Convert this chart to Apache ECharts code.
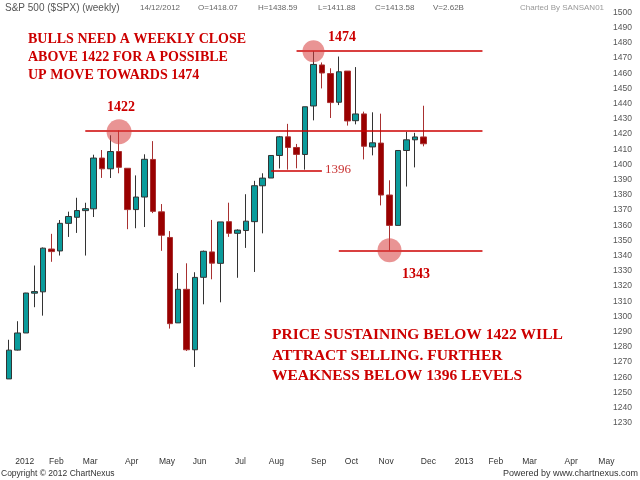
<!DOCTYPE html>
<html>
<head>
<meta charset="utf-8">
<script src="https://cdn.jsdelivr.net/npm/echarts@6/dist/echarts.min.js"></script>
<style>
  html, body { margin: 0; padding: 0; background: #fff; }
  #chart { width: 640px; height: 480px; }
</style>
</head>
<body>
<div id="chart"></div>
<script>
// weekly bars, week ending Friday (future weeks stay empty)
const weeks = [
  '2012-01-06','2012-01-13','2012-01-20','2012-01-27','2012-02-03','2012-02-10','2012-02-17','2012-02-24',
  '2012-03-02','2012-03-09','2012-03-16','2012-03-23','2012-03-30','2012-04-06','2012-04-13','2012-04-20',
  '2012-04-27','2012-05-04','2012-05-11','2012-05-18','2012-05-25','2012-06-01','2012-06-08','2012-06-15',
  '2012-06-22','2012-06-29','2012-07-06','2012-07-13','2012-07-20','2012-07-27','2012-08-03','2012-08-10',
  '2012-08-17','2012-08-24','2012-08-31','2012-09-07','2012-09-14','2012-09-21','2012-09-28','2012-10-05',
  '2012-10-12','2012-10-19','2012-10-26','2012-11-02','2012-11-09','2012-11-16','2012-11-23','2012-11-30',
  '2012-12-07','2012-12-14','2012-12-21','2012-12-28','2013-01-04','2013-01-11','2013-01-18','2013-01-25',
  '2013-02-01','2013-02-08','2013-02-15','2013-02-22','2013-03-01','2013-03-08','2013-03-15','2013-03-22',
  '2013-03-29','2013-04-05','2013-04-12','2013-04-19','2013-04-26','2013-05-03','2013-05-10'
];

const opens = [1258.86,1277.83,1289.09,1315.29,1316.16,1344.32,1343.06,1361.22,1365.20,1369.59,
  1370.78,1404.17,1397.11,1408.47,1397.45,1370.27,1378.53,1403.26,1368.79,1351.93,
  1295.73,1317.82,1278.04,1325.72,1342.42,1334.90,1362.33,1354.66,1356.50,1362.34,
  1385.94,1391.04,1405.87,1418.13,1411.13,1406.54,1438.44,1465.42,1459.76,1440.90,
  1461.40,1428.75,1433.21,1411.50,1414.02,1379.86,1359.88,1409.15,1416.18,1418.07];
const closes = [1277.81,1289.09,1315.38,1316.33,1344.90,1342.64,1361.23,1365.74,1369.63,1370.87,
  1404.17,1397.11,1408.47,1398.08,1370.26,1378.53,1403.36,1369.10,1353.39,1295.22,
  1317.82,1278.04,1325.66,1342.84,1335.02,1362.16,1354.68,1356.78,1362.66,1385.97,
  1390.99,1405.87,1418.16,1411.13,1406.58,1437.92,1465.77,1460.15,1440.67,1460.93,
  1428.59,1433.19,1411.94,1414.20,1379.85,1359.88,1409.15,1416.18,1418.07,1413.58];
const lows = [1258.86,1277.55,1289.09,1306.06,1300.49,1335.92,1340.03,1352.28,1354.92,1340.03,
  1365.38,1391.11,1391.06,1394.16,1357.38,1358.00,1358.79,1367.96,1343.13,1291.98,
  1295.73,1277.25,1266.74,1307.96,1324.41,1309.27,1352.32,1325.41,1345.07,1329.24,
  1354.65,1391.04,1397.32,1396.56,1397.43,1396.56,1428.98,1449.98,1430.53,1439.01,
  1425.53,1426.36,1403.28,1405.95,1373.03,1343.35,1359.88,1385.43,1398.04,1411.88];
const highs = [1284.62,1296.82,1315.49,1333.47,1345.34,1354.32,1363.40,1368.92,1378.04,1374.76,
  1406.37,1409.46,1419.15,1422.38,1397.45,1392.76,1406.64,1415.32,1373.91,1356.12,
  1328.49,1334.93,1329.05,1343.32,1363.46,1362.17,1374.81,1357.26,1380.39,1389.19,
  1394.16,1405.98,1418.71,1426.68,1413.46,1437.92,1474.51,1467.07,1463.24,1470.96,
  1461.40,1464.02,1434.70,1434.27,1433.38,1389.55,1409.16,1421.44,1420.78,1438.59];

const monthNames = ['Jan','Feb','Mar','Apr','May','Jun','Jul','Aug','Sep','Oct','Nov','Dec'];

// support / resistance levels drawn on the chart: [fromIndex, toIndex, price]
const levels = [
  [8.5, 55.9, 1422],
  [33.5, 56.1, 1474.5],
  [31.1, 37.0, 1396],
  [38.7, 56.1, 1343]
];
// highlighted touches: [index, price, size]
const touches = [
  [13.1, 1421.5, 25],
  [36, 1474.5, 22],
  [45.1, 1343.5, 24]
];

const candles = opens.map((o, i) => [o, closes[i], lows[i], highs[i]]);

const chart = echarts.init(document.getElementById('chart'));

const serif = '"Liberation Serif", "Times New Roman", serif';
const sans = '"Liberation Sans", Arial, sans-serif';
const red = '#cc0000';

function isMonthStart(i) {
  if (i === 0) return true;
  return weeks[i].slice(5, 7) !== weeks[i - 1].slice(5, 7);
}

const option = {
  animation: false,
  backgroundColor: '#fff',
  grid: { left: 5, right: 35, top: 12.4, bottom: 42 },
  xAxis: {
    type: 'category',
    data: weeks,
    boundaryGap: true,
    axisLine: { show: false },
    axisTick: { show: false },
    splitLine: { show: false },
    axisLabel: {
      interval: (i) => isMonthStart(i),
      align: 'left',
      margin: 19,
      padding: [0, 0, 0, 6],
      color: '#333',
      fontSize: 8.5,
      fontFamily: sans,
      formatter: (v) => {
        const m = parseInt(v.slice(5, 7), 10);
        return m === 1 ? v.slice(0, 4) : monthNames[m - 1];
      }
    }
  },
  yAxis: {
    type: 'value',
    position: 'right',
    min: 1220,
    max: 1500,
    interval: 10,
    scale: true,
    axisLine: { show: false },
    axisTick: { show: false },
    splitLine: { show: false },
    axisLabel: {
      showMinLabel: false,
      margin: 8,
      color: '#555',
      fontSize: 8.5,
      fontFamily: sans,
      formatter: (v) => String(v)
    }
  },
  series: [{
    type: 'candlestick',
    data: candles,
    barWidth: 6,
    itemStyle: {
      color: '#0a9b9b',
      color0: '#990000',
      borderColor: '#333',
      borderColor0: '#a83030',
      borderWidth: 1
    },
    markLine: {
      silent: true,
      symbol: ['none', 'none'],
      label: { show: false },
      lineStyle: { color: red, width: 1.5, type: 'solid' },
      data: levels.map(l => [{ coord: [l[0], l[2]] }, { coord: [l[1], l[2]] }])
    },
    markPoint: {
      silent: true,
      symbol: 'circle',
      label: { show: false },
      itemStyle: { color: 'rgba(215,60,60,0.55)' },
      data: touches.map(t => ({ coord: [t[0], t[1]], symbolSize: t[2] }))
    }
  }],
  graphic: [
    { type: 'text', left: 5, top: 3, style: { text: 'S&P 500 ($SPX) (weekly)', fill: '#555', font: '10px ' + sans } },
    { type: 'text', left: 140, top: 4, style: { text: '14/12/2012', fill: '#666', font: '8px ' + sans } },
    { type: 'text', left: 198, top: 4, style: { text: 'O=1418.07', fill: '#666', font: '8px ' + sans } },
    { type: 'text', left: 258, top: 4, style: { text: 'H=1438.59', fill: '#666', font: '8px ' + sans } },
    { type: 'text', left: 318, top: 4, style: { text: 'L=1411.88', fill: '#666', font: '8px ' + sans } },
    { type: 'text', left: 375, top: 4, style: { text: 'C=1413.58', fill: '#666', font: '8px ' + sans } },
    { type: 'text', left: 433, top: 4, style: { text: 'V=2.62B', fill: '#666', font: '8px ' + sans } },
    { type: 'text', left: 520, top: 4, style: { text: 'Charted By SANSAN01', fill: '#999', font: '8px ' + sans } },

    { type: 'text', left: 28, top: 30, style: {
      text: 'BULLS NEED A WEEKLY CLOSE\nABOVE 1422 FOR A POSSIBLE\nUP MOVE TOWARDS 1474',
      fill: red, font: 'bold 14px ' + serif, lineHeight: 18 } },
    { type: 'text', left: 107, top: 100, style: { text: '1422', fill: red, font: 'bold 14px ' + serif } },
    { type: 'text', left: 328, top: 30, style: { text: '1474', fill: red, font: 'bold 14px ' + serif } },
    { type: 'text', left: 402, top: 267, style: { text: '1343', fill: red, font: 'bold 14px ' + serif } },
    { type: 'text', left: 325, top: 163, style: { text: '1396', fill: '#c83030', font: '13px ' + serif } },
    { type: 'text', left: 272, top: 325, style: {
      text: 'PRICE SUSTAINING BELOW 1422 WILL\nATTRACT SELLING. FURTHER\nWEAKNESS BELOW 1396 LEVELS',
      fill: red, font: 'bold 15.5px ' + serif, lineHeight: 20.5 } },

    { type: 'text', left: 1, top: 469, style: { text: 'Copyright \u00a9 2012 ChartNexus', fill: '#333', font: '8.5px ' + sans } },
    { type: 'text', right: 2, top: 469, style: { text: 'Powered by www.chartnexus.com', fill: '#333', font: '9px ' + sans } }
  ]
};

chart.setOption(option);
</script>
</body>
</html>
